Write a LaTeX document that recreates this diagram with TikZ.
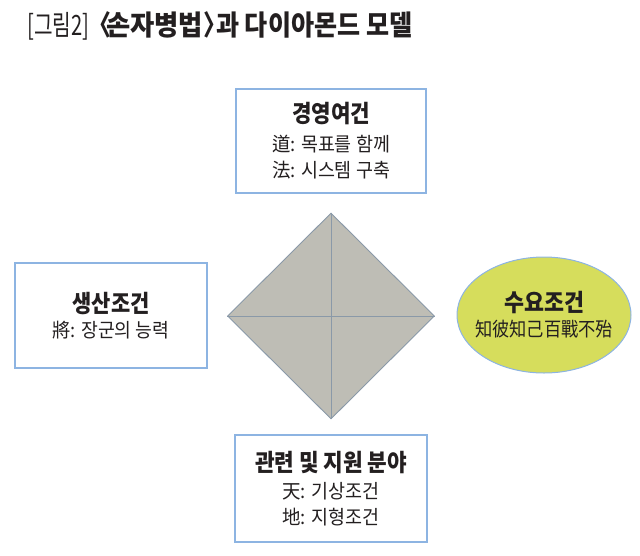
\documentclass[tikz,border=0pt]{standalone}
\usepackage{fontspec}
\usepackage{graphicx}
\setmainfont{Noto Sans CJK KR}[FakeStretch=0.82]
\usetikzlibrary{shapes.geometric}
\definecolor{boxline}{HTML}{8DB4E2}
\definecolor{dfill}{HTML}{BEBDB5}
\definecolor{dline}{HTML}{8A99A8}
\definecolor{efill}{HTML}{D6DD5C}
\definecolor{txt}{HTML}{231F20}
\newlength\segw
\newcommand{\fitw}[2]{\settowidth\segw{#2}\scalebox{\fpeval{(#1)/\segw}}[1]{#2}}
\newcommand{\hd}[2]{{\bfseries\fontsize{24}{24}\selectfont\fitw{#1}{#2}}}
\tikzset{
  infobox/.style={draw=boxline, line width=1.3pt, fill=white, align=center, text=txt,
    inner sep=0pt, font=\fontsize{19.5}{26}\selectfont},
  titletxt/.style={anchor=base west, text=txt, inner sep=0pt, font=\fontsize{28}{28}\selectfont},
}
\begin{document}
\begin{tikzpicture}[x=1pt,y=-1pt]
\useasboundingbox (0,0) rectangle (640,555);
% title
\node[titletxt] (t1) at (27,35) {\fitw{62}{[그림2]}};
\node[titletxt, anchor=base east] (t2) at (112,35) {\bfseries〈};
\node[titletxt] (t3) at (106,35) {\bfseries\fitw{97}{손자병법}};
\node[titletxt] (t4) at (203,35) {\bfseries〉};
\node[titletxt] (t5) at (216,35) {\bfseries\fitw{196}{과 다이아몬드 모델}};
% diamond
\node[diamond, draw=dline, line width=0.9pt, fill=dfill, minimum width=207pt, minimum height=206pt, inner sep=0pt] (dia) at (331,316) {};
\draw[dline, line width=0.9pt] (dia.north) -- (dia.south);
\draw[dline, line width=0.9pt] (dia.west) -- (dia.east);
% boxes
\node[infobox, minimum width=190pt, minimum height=104pt] (top) at (331,141)
  {\hd{78}{경영여건}\\[3pt]\fitw{118}{道: 목표를 함께}\\\fitw{118}{法: 시스템 구축}};
\node[infobox, minimum width=192pt, minimum height=105pt] (left) at (111,315.5)
  {\hd{77}{생산조건}\\[-1pt]\fitw{117}{將: 장군의 능력}};
\node[infobox, minimum width=192pt, minimum height=107pt] (bottom) at (331,488.5)
  {\hd{152}{관련 및 지원 분야}\\[1pt]\fitw{97}{天: 기상조건}\\\fitw{97}{地: 지형조건}};
\node[ellipse, draw=boxline, line width=1pt, fill=efill, minimum width=174pt, minimum height=116pt, inner sep=0pt] (right) at (544,315) {};
\node[align=center, text=txt, inner sep=0pt, font=\fontsize{19.5}{26}\selectfont] (righttxt) at (right.center)
  {\hd{80}{수요조건}\\[-1pt]\fitw{138}{知彼知己百戰不殆}};
\end{tikzpicture}
\end{document}
